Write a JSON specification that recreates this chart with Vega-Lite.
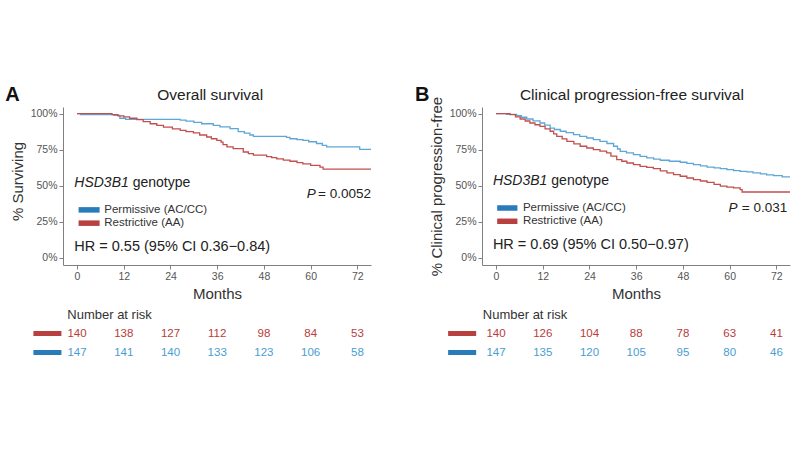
{
  "$schema": "https://vega.github.io/schema/vega-lite/v6.json",
  "padding": {"left": 5, "top": 85, "right": 5, "bottom": 5},
  "background": "white",
  "config": {
    "view": {"stroke": null},
    "font": "Liberation Sans",
    "axis": {
      "grid": false,
      "domainColor": "#808080",
      "tickColor": "#808080",
      "tickSize": 4,
      "labelColor": "#555555",
      "labelFontSize": 10.5,
      "labelPadding": 2,
      "labelOverlap": false,
      "titleColor": "#333333",
      "titleFontSize": 15,
      "titleFontWeight": "normal",
      "titlePadding": 5
    }
  },
  "datasets": {
    "km": [
      {"p":"OS","g":"Permissive (AC/CC)","m":0,"s":100},
      {"p":"OS","g":"Permissive (AC/CC)","m":0.9,"s":99.3},
      {"p":"OS","g":"Permissive (AC/CC)","m":9.5,"s":98.8},
      {"p":"OS","g":"Permissive (AC/CC)","m":11,"s":96.8},
      {"p":"OS","g":"Permissive (AC/CC)","m":12.5,"s":96},
      {"p":"OS","g":"Permissive (AC/CC)","m":26.5,"s":95.5},
      {"p":"OS","g":"Permissive (AC/CC)","m":28,"s":94.8},
      {"p":"OS","g":"Permissive (AC/CC)","m":30,"s":94},
      {"p":"OS","g":"Permissive (AC/CC)","m":32,"s":93},
      {"p":"OS","g":"Permissive (AC/CC)","m":35,"s":91.8},
      {"p":"OS","g":"Permissive (AC/CC)","m":36.7,"s":90.8},
      {"p":"OS","g":"Permissive (AC/CC)","m":39.3,"s":89.6},
      {"p":"OS","g":"Permissive (AC/CC)","m":41.4,"s":87.6},
      {"p":"OS","g":"Permissive (AC/CC)","m":43,"s":86.5},
      {"p":"OS","g":"Permissive (AC/CC)","m":44.4,"s":85.2},
      {"p":"OS","g":"Permissive (AC/CC)","m":45.3,"s":84.3},
      {"p":"OS","g":"Permissive (AC/CC)","m":53.8,"s":83.5},
      {"p":"OS","g":"Permissive (AC/CC)","m":54.7,"s":82.6},
      {"p":"OS","g":"Permissive (AC/CC)","m":56.5,"s":82},
      {"p":"OS","g":"Permissive (AC/CC)","m":58,"s":81.5},
      {"p":"OS","g":"Permissive (AC/CC)","m":59.5,"s":80.5},
      {"p":"OS","g":"Permissive (AC/CC)","m":61.5,"s":79.3},
      {"p":"OS","g":"Permissive (AC/CC)","m":63,"s":78},
      {"p":"OS","g":"Permissive (AC/CC)","m":64.1,"s":76.9},
      {"p":"OS","g":"Permissive (AC/CC)","m":72.6,"s":75.3},
      {"p":"OS","g":"Permissive (AC/CC)","m":75.5,"s":75.3},
      {"p":"OS","g":"Restrictive (AA)","m":0,"s":100},
      {"p":"OS","g":"Restrictive (AA)","m":9,"s":99.3},
      {"p":"OS","g":"Restrictive (AA)","m":10.5,"s":98.5},
      {"p":"OS","g":"Restrictive (AA)","m":12,"s":97.7},
      {"p":"OS","g":"Restrictive (AA)","m":13.5,"s":96.8},
      {"p":"OS","g":"Restrictive (AA)","m":15.4,"s":95.8},
      {"p":"OS","g":"Restrictive (AA)","m":17,"s":94.5},
      {"p":"OS","g":"Restrictive (AA)","m":18.8,"s":93},
      {"p":"OS","g":"Restrictive (AA)","m":20.5,"s":91.8},
      {"p":"OS","g":"Restrictive (AA)","m":22.2,"s":90.7},
      {"p":"OS","g":"Restrictive (AA)","m":24.5,"s":89.5},
      {"p":"OS","g":"Restrictive (AA)","m":26.5,"s":88.4},
      {"p":"OS","g":"Restrictive (AA)","m":28,"s":87.5},
      {"p":"OS","g":"Restrictive (AA)","m":29.9,"s":86.6},
      {"p":"OS","g":"Restrictive (AA)","m":31.5,"s":85.2},
      {"p":"OS","g":"Restrictive (AA)","m":33.3,"s":83.8},
      {"p":"OS","g":"Restrictive (AA)","m":34.5,"s":82.6},
      {"p":"OS","g":"Restrictive (AA)","m":35.9,"s":81.5},
      {"p":"OS","g":"Restrictive (AA)","m":37,"s":80.3},
      {"p":"OS","g":"Restrictive (AA)","m":37.5,"s":78.5},
      {"p":"OS","g":"Restrictive (AA)","m":38.5,"s":77},
      {"p":"OS","g":"Restrictive (AA)","m":40.1,"s":75.7},
      {"p":"OS","g":"Restrictive (AA)","m":42.7,"s":73.4},
      {"p":"OS","g":"Restrictive (AA)","m":44,"s":72.3},
      {"p":"OS","g":"Restrictive (AA)","m":45.3,"s":71.2},
      {"p":"OS","g":"Restrictive (AA)","m":48.7,"s":70.2},
      {"p":"OS","g":"Restrictive (AA)","m":50,"s":69.5},
      {"p":"OS","g":"Restrictive (AA)","m":51.3,"s":68.6},
      {"p":"OS","g":"Restrictive (AA)","m":53,"s":67.8},
      {"p":"OS","g":"Restrictive (AA)","m":54.7,"s":67},
      {"p":"OS","g":"Restrictive (AA)","m":56.5,"s":66},
      {"p":"OS","g":"Restrictive (AA)","m":58,"s":65.2},
      {"p":"OS","g":"Restrictive (AA)","m":60,"s":64.2},
      {"p":"OS","g":"Restrictive (AA)","m":62.4,"s":63},
      {"p":"OS","g":"Restrictive (AA)","m":63.2,"s":61.6},
      {"p":"OS","g":"Restrictive (AA)","m":75.5,"s":61.6},
      {"p":"PFS","g":"Permissive (AC/CC)","m":0,"s":100},
      {"p":"PFS","g":"Permissive (AC/CC)","m":2.7,"s":99.5},
      {"p":"PFS","g":"Permissive (AC/CC)","m":5.3,"s":98.6},
      {"p":"PFS","g":"Permissive (AC/CC)","m":6.5,"s":97.5},
      {"p":"PFS","g":"Permissive (AC/CC)","m":7.9,"s":96.3},
      {"p":"PFS","g":"Permissive (AC/CC)","m":9.5,"s":95},
      {"p":"PFS","g":"Permissive (AC/CC)","m":11.3,"s":93.5},
      {"p":"PFS","g":"Permissive (AC/CC)","m":12.5,"s":92},
      {"p":"PFS","g":"Permissive (AC/CC)","m":13.9,"s":90},
      {"p":"PFS","g":"Permissive (AC/CC)","m":15,"s":89},
      {"p":"PFS","g":"Permissive (AC/CC)","m":16.5,"s":87.8},
      {"p":"PFS","g":"Permissive (AC/CC)","m":18,"s":86.8},
      {"p":"PFS","g":"Permissive (AC/CC)","m":19.9,"s":85.5},
      {"p":"PFS","g":"Permissive (AC/CC)","m":21.5,"s":84.3},
      {"p":"PFS","g":"Permissive (AC/CC)","m":23.3,"s":83.1},
      {"p":"PFS","g":"Permissive (AC/CC)","m":25,"s":82},
      {"p":"PFS","g":"Permissive (AC/CC)","m":26.7,"s":80.8},
      {"p":"PFS","g":"Permissive (AC/CC)","m":28.5,"s":79.3},
      {"p":"PFS","g":"Permissive (AC/CC)","m":30.2,"s":77.4},
      {"p":"PFS","g":"Permissive (AC/CC)","m":31.2,"s":75.5},
      {"p":"PFS","g":"Permissive (AC/CC)","m":31.9,"s":73.9},
      {"p":"PFS","g":"Permissive (AC/CC)","m":33.5,"s":72.8},
      {"p":"PFS","g":"Permissive (AC/CC)","m":35.3,"s":71.6},
      {"p":"PFS","g":"Permissive (AC/CC)","m":37,"s":70.4},
      {"p":"PFS","g":"Permissive (AC/CC)","m":38.7,"s":69.3},
      {"p":"PFS","g":"Permissive (AC/CC)","m":40.5,"s":68.5},
      {"p":"PFS","g":"Permissive (AC/CC)","m":42.2,"s":67.7},
      {"p":"PFS","g":"Permissive (AC/CC)","m":44.5,"s":67},
      {"p":"PFS","g":"Permissive (AC/CC)","m":47.3,"s":66.3},
      {"p":"PFS","g":"Permissive (AC/CC)","m":49,"s":65.5},
      {"p":"PFS","g":"Permissive (AC/CC)","m":50.7,"s":64.7},
      {"p":"PFS","g":"Permissive (AC/CC)","m":52.5,"s":63.8},
      {"p":"PFS","g":"Permissive (AC/CC)","m":54.2,"s":63},
      {"p":"PFS","g":"Permissive (AC/CC)","m":56,"s":62.4},
      {"p":"PFS","g":"Permissive (AC/CC)","m":57.6,"s":61.9},
      {"p":"PFS","g":"Permissive (AC/CC)","m":59.3,"s":61.2},
      {"p":"PFS","g":"Permissive (AC/CC)","m":61,"s":60.5},
      {"p":"PFS","g":"Permissive (AC/CC)","m":62.7,"s":60},
      {"p":"PFS","g":"Permissive (AC/CC)","m":64.4,"s":59.6},
      {"p":"PFS","g":"Permissive (AC/CC)","m":66,"s":58.9},
      {"p":"PFS","g":"Permissive (AC/CC)","m":67.9,"s":58.2},
      {"p":"PFS","g":"Permissive (AC/CC)","m":69.5,"s":57.6},
      {"p":"PFS","g":"Permissive (AC/CC)","m":71.3,"s":57},
      {"p":"PFS","g":"Permissive (AC/CC)","m":73.5,"s":56.2},
      {"p":"PFS","g":"Permissive (AC/CC)","m":75.5,"s":56.2},
      {"p":"PFS","g":"Restrictive (AA)","m":0,"s":100},
      {"p":"PFS","g":"Restrictive (AA)","m":3.6,"s":99.3},
      {"p":"PFS","g":"Restrictive (AA)","m":5,"s":97.8},
      {"p":"PFS","g":"Restrictive (AA)","m":6.2,"s":96.3},
      {"p":"PFS","g":"Restrictive (AA)","m":7.5,"s":94.9},
      {"p":"PFS","g":"Restrictive (AA)","m":8.7,"s":93.5},
      {"p":"PFS","g":"Restrictive (AA)","m":10,"s":92.3},
      {"p":"PFS","g":"Restrictive (AA)","m":11.3,"s":91.2},
      {"p":"PFS","g":"Restrictive (AA)","m":12.6,"s":89.5},
      {"p":"PFS","g":"Restrictive (AA)","m":13.9,"s":87.8},
      {"p":"PFS","g":"Restrictive (AA)","m":14.8,"s":86},
      {"p":"PFS","g":"Restrictive (AA)","m":15.6,"s":84.3},
      {"p":"PFS","g":"Restrictive (AA)","m":17,"s":82.5},
      {"p":"PFS","g":"Restrictive (AA)","m":18.2,"s":80.8},
      {"p":"PFS","g":"Restrictive (AA)","m":20,"s":79},
      {"p":"PFS","g":"Restrictive (AA)","m":21.6,"s":77.4},
      {"p":"PFS","g":"Restrictive (AA)","m":23.3,"s":76.2},
      {"p":"PFS","g":"Restrictive (AA)","m":25,"s":75.1},
      {"p":"PFS","g":"Restrictive (AA)","m":26.7,"s":74},
      {"p":"PFS","g":"Restrictive (AA)","m":28.4,"s":72.8},
      {"p":"PFS","g":"Restrictive (AA)","m":29.5,"s":70.5},
      {"p":"PFS","g":"Restrictive (AA)","m":31,"s":68.1},
      {"p":"PFS","g":"Restrictive (AA)","m":32.3,"s":67},
      {"p":"PFS","g":"Restrictive (AA)","m":33.6,"s":65.8},
      {"p":"PFS","g":"Restrictive (AA)","m":35.3,"s":64.6},
      {"p":"PFS","g":"Restrictive (AA)","m":37,"s":63.5},
      {"p":"PFS","g":"Restrictive (AA)","m":38.7,"s":62.7},
      {"p":"PFS","g":"Restrictive (AA)","m":40.4,"s":61.9},
      {"p":"PFS","g":"Restrictive (AA)","m":42.2,"s":60.4},
      {"p":"PFS","g":"Restrictive (AA)","m":43.9,"s":58.9},
      {"p":"PFS","g":"Restrictive (AA)","m":45.6,"s":57.7},
      {"p":"PFS","g":"Restrictive (AA)","m":47.3,"s":56.6},
      {"p":"PFS","g":"Restrictive (AA)","m":49,"s":55.4},
      {"p":"PFS","g":"Restrictive (AA)","m":50.7,"s":54.3},
      {"p":"PFS","g":"Restrictive (AA)","m":52.5,"s":53.3},
      {"p":"PFS","g":"Restrictive (AA)","m":54.2,"s":52.4},
      {"p":"PFS","g":"Restrictive (AA)","m":56,"s":51},
      {"p":"PFS","g":"Restrictive (AA)","m":57.6,"s":49.7},
      {"p":"PFS","g":"Restrictive (AA)","m":59.3,"s":49.1},
      {"p":"PFS","g":"Restrictive (AA)","m":61,"s":48.5},
      {"p":"PFS","g":"Restrictive (AA)","m":62.7,"s":47.3},
      {"p":"PFS","g":"Restrictive (AA)","m":63.2,"s":45.7},
      {"p":"PFS","g":"Restrictive (AA)","m":75.5,"s":45.7}
    ],
    "risk": [
      {"p":"OS","g":"Restrictive (AA)","m":0,"n":140},
      {"p":"OS","g":"Restrictive (AA)","m":12,"n":138},
      {"p":"OS","g":"Restrictive (AA)","m":24,"n":127},
      {"p":"OS","g":"Restrictive (AA)","m":36,"n":112},
      {"p":"OS","g":"Restrictive (AA)","m":48,"n":98},
      {"p":"OS","g":"Restrictive (AA)","m":60,"n":84},
      {"p":"OS","g":"Restrictive (AA)","m":72,"n":53},
      {"p":"OS","g":"Permissive (AC/CC)","m":0,"n":147},
      {"p":"OS","g":"Permissive (AC/CC)","m":12,"n":141},
      {"p":"OS","g":"Permissive (AC/CC)","m":24,"n":140},
      {"p":"OS","g":"Permissive (AC/CC)","m":36,"n":133},
      {"p":"OS","g":"Permissive (AC/CC)","m":48,"n":123},
      {"p":"OS","g":"Permissive (AC/CC)","m":60,"n":106},
      {"p":"OS","g":"Permissive (AC/CC)","m":72,"n":58},
      {"p":"PFS","g":"Restrictive (AA)","m":0,"n":140},
      {"p":"PFS","g":"Restrictive (AA)","m":12,"n":126},
      {"p":"PFS","g":"Restrictive (AA)","m":24,"n":104},
      {"p":"PFS","g":"Restrictive (AA)","m":36,"n":88},
      {"p":"PFS","g":"Restrictive (AA)","m":48,"n":78},
      {"p":"PFS","g":"Restrictive (AA)","m":60,"n":63},
      {"p":"PFS","g":"Restrictive (AA)","m":72,"n":41},
      {"p":"PFS","g":"Permissive (AC/CC)","m":0,"n":147},
      {"p":"PFS","g":"Permissive (AC/CC)","m":12,"n":135},
      {"p":"PFS","g":"Permissive (AC/CC)","m":24,"n":120},
      {"p":"PFS","g":"Permissive (AC/CC)","m":36,"n":105},
      {"p":"PFS","g":"Permissive (AC/CC)","m":48,"n":95},
      {"p":"PFS","g":"Permissive (AC/CC)","m":60,"n":80},
      {"p":"PFS","g":"Permissive (AC/CC)","m":72,"n":46}
    ]
  },
  "bounds": "flush",
  "columns": 2,
  "spacing": {"row": 40, "column": 111},
  "resolve": {"scale": {"x": "independent", "y": "independent", "color": "independent"}},
  "concat": [
    {
      "width": 308,
      "height": 158,
      "layer": [
        {
          "data": {"name": "km"},
          "transform": [{"filter": "datum.p == 'OS'"}],
          "mark": {"type": "line", "interpolate": "step-after", "strokeWidth": 1.3},
          "encoding": {
            "x": {"field": "m", "type": "quantitative",
                  "scale": {"domain": [-3.6, 75.5], "nice": false, "zero": false},
                  "axis": {"values": [0, 12, 24, 36, 48, 60, 72], "tickCount": 20, "title": "Months", "labelOverlap": false}},
            "y": {"field": "s", "type": "quantitative",
                  "scale": {"domain": [-4.9, 104.6], "nice": false, "zero": false},
                  "axis": {"values": [0, 25, 50, 75, 100], "tickCount": 20, "labelExpr": "datum.value + '%'", "title": "% Surviving", "labelOverlap": false, "labelFlush": false, "titleY": 74}},
            "color": {"field": "g", "type": "nominal",
                      "scale": {"domain": ["Permissive (AC/CC)", "Restrictive (AA)"], "range": ["#5ea6d6", "#c24f4f"]},
                      "legend": null}
          }
        },
        {"data": {"values": [{}]}, "mark": {"type": "text", "text": "A", "align": "left", "baseline": "middle", "fontSize": 20, "fontWeight": "bold", "color": "#111111"},
         "encoding": {"x": {"datum": -18.4}, "y": {"datum": 112.9}}},
        {"data": {"values": [{}]}, "mark": {"type": "text", "text": "Overall survival", "align": "center", "baseline": "middle", "fontSize": 15.5, "color": "#222222"},
         "encoding": {"x": {"datum": 34.2}, "y": {"datum": 112.9}}},
        {"data": {"values": [{}]}, "mark": {"type": "text", "text": "HSD3B1", "align": "left", "baseline": "middle", "fontSize": 14, "fontStyle": "italic", "color": "#222222"},
         "encoding": {"x": {"datum": -0.7}, "y": {"datum": 51.9}}},
        {"data": {"values": [{}]}, "mark": {"type": "text", "text": "genotype", "align": "left", "baseline": "middle", "fontSize": 14, "color": "#222222"},
         "encoding": {"x": {"datum": 14.3}, "y": {"datum": 51.9}}},
        {"data": {"values": [{}]}, "mark": {"type": "rule", "strokeWidth": 5.5, "strokeCap": "butt", "color": "#2a7bb9"},
         "encoding": {"x": {"datum": 0.4}, "x2": {"datum": 5.8}, "y": {"datum": 33.3}}},
        {"data": {"values": [{}]}, "mark": {"type": "rule", "strokeWidth": 5.5, "strokeCap": "butt", "color": "#b8403f"},
         "encoding": {"x": {"datum": 0.4}, "x2": {"datum": 5.8}, "y": {"datum": 24.1}}},
        {"data": {"values": [{}]}, "mark": {"type": "text", "text": "Permissive (AC/CC)", "align": "left", "baseline": "middle", "fontSize": 11.5, "color": "#333333"},
         "encoding": {"x": {"datum": 7}, "y": {"datum": 33.3}}},
        {"data": {"values": [{}]}, "mark": {"type": "text", "text": "Restrictive (AA)", "align": "left", "baseline": "middle", "fontSize": 11.5, "color": "#333333"},
         "encoding": {"x": {"datum": 7}, "y": {"datum": 24.1}}},
        {"data": {"values": [{}]}, "mark": {"type": "text", "text": "P", "align": "left", "baseline": "middle", "fontSize": 13.5, "fontStyle": "italic", "color": "#222222"},
         "encoding": {"x": {"datum": 59}, "y": {"datum": 44.4}}},
        {"data": {"values": [{}]}, "mark": {"type": "text", "text": "= 0.0052", "align": "right", "baseline": "middle", "fontSize": 13.5, "color": "#222222"},
         "encoding": {"x": {"datum": 75.5}, "y": {"datum": 44.4}}},
        {"data": {"values": [{}]}, "mark": {"type": "text", "text": "HR = 0.55 (95% CI 0.36\u22120.84)", "align": "left", "baseline": "middle", "fontSize": 14.5, "color": "#222222"},
         "encoding": {"x": {"datum": -0.7}, "y": {"datum": 7.4}}}
      ]
    },
    {
      "width": 308,
      "height": 158,
      "layer": [
        {
          "data": {"name": "km"},
          "transform": [{"filter": "datum.p == 'PFS'"}],
          "mark": {"type": "line", "interpolate": "step-after", "strokeWidth": 1.3},
          "encoding": {
            "x": {"field": "m", "type": "quantitative",
                  "scale": {"domain": [-3.6, 75.5], "nice": false, "zero": false},
                  "axis": {"values": [0, 12, 24, 36, 48, 60, 72], "tickCount": 20, "title": "Months", "labelOverlap": false}},
            "y": {"field": "s", "type": "quantitative",
                  "scale": {"domain": [-4.9, 104.6], "nice": false, "zero": false},
                  "axis": {"values": [0, 25, 50, 75, 100], "tickCount": 20, "labelExpr": "datum.value + '%'", "title": "% Clinical progression-free", "labelOverlap": false, "labelFlush": false}},
            "color": {"field": "g", "type": "nominal",
                      "scale": {"domain": ["Permissive (AC/CC)", "Restrictive (AA)"], "range": ["#5ea6d6", "#c24f4f"]},
                      "legend": null}
          }
        },
        {"data": {"values": [{}]}, "mark": {"type": "text", "text": "B", "align": "left", "baseline": "middle", "fontSize": 20, "fontWeight": "bold", "color": "#111111"},
         "encoding": {"x": {"datum": -20.8}, "y": {"datum": 112.9}}},
        {"data": {"values": [{}]}, "mark": {"type": "text", "text": "Clinical progression-free survival", "align": "center", "baseline": "middle", "fontSize": 15.5, "color": "#222222"},
         "encoding": {"x": {"datum": 34.9}, "y": {"datum": 112.9}}},
        {"data": {"values": [{}]}, "mark": {"type": "text", "text": "HSD3B1", "align": "left", "baseline": "middle", "fontSize": 14, "fontStyle": "italic", "color": "#222222"},
         "encoding": {"x": {"datum": -0.8}, "y": {"datum": 53.1}}},
        {"data": {"values": [{}]}, "mark": {"type": "text", "text": "genotype", "align": "left", "baseline": "middle", "fontSize": 14, "color": "#222222"},
         "encoding": {"x": {"datum": 14.2}, "y": {"datum": 53.1}}},
        {"data": {"values": [{}]}, "mark": {"type": "rule", "strokeWidth": 5.5, "strokeCap": "butt", "color": "#2a7bb9"},
         "encoding": {"x": {"datum": 0.3}, "x2": {"datum": 5.5}, "y": {"datum": 34.6}}},
        {"data": {"values": [{}]}, "mark": {"type": "rule", "strokeWidth": 5.5, "strokeCap": "butt", "color": "#b8403f"},
         "encoding": {"x": {"datum": 0.3}, "x2": {"datum": 5.5}, "y": {"datum": 25.4}}},
        {"data": {"values": [{}]}, "mark": {"type": "text", "text": "Permissive (AC/CC)", "align": "left", "baseline": "middle", "fontSize": 11.5, "color": "#333333"},
         "encoding": {"x": {"datum": 6.9}, "y": {"datum": 34.6}}},
        {"data": {"values": [{}]}, "mark": {"type": "text", "text": "Restrictive (AA)", "align": "left", "baseline": "middle", "fontSize": 11.5, "color": "#333333"},
         "encoding": {"x": {"datum": 6.9}, "y": {"datum": 25.4}}},
        {"data": {"values": [{}]}, "mark": {"type": "text", "text": "P", "align": "left", "baseline": "middle", "fontSize": 13.5, "fontStyle": "italic", "color": "#222222"},
         "encoding": {"x": {"datum": 59.7}, "y": {"datum": 34.6}}},
        {"data": {"values": [{}]}, "mark": {"type": "text", "text": "= 0.031", "align": "right", "baseline": "middle", "fontSize": 13.5, "color": "#222222"},
         "encoding": {"x": {"datum": 74.8}, "y": {"datum": 34.6}}},
        {"data": {"values": [{}]}, "mark": {"type": "text", "text": "HR = 0.69 (95% CI 0.50\u22120.97)", "align": "left", "baseline": "middle", "fontSize": 14.5, "color": "#222222"},
         "encoding": {"x": {"datum": -0.8}, "y": {"datum": 8.9}}}
      ]
    },
    {
      "width": 308,
      "height": 57,
      "layer": [
        {"data": {"values": [{}]}, "mark": {"type": "text", "text": "Number at risk", "align": "left", "baseline": "middle", "fontSize": 13, "color": "#333333"},
         "encoding": {"x": {"datum": -2.5, "type": "quantitative", "scale": {"domain": [-3.6, 75.5], "nice": false, "zero": false}, "axis": null},
                      "y": {"datum": "Number at risk", "type": "nominal", "scale": {"type": "point", "domain": ["Number at risk", "Restrictive (AA)", "Permissive (AC/CC)"], "padding": 0.5}, "axis": null}}},
        {"data": {"values": [{}]}, "mark": {"type": "rule", "strokeWidth": 5, "strokeCap": "butt", "color": "#b8403f"},
         "encoding": {"x": {"datum": -11.2}, "x2": {"datum": -4.0}, "y": {"datum": "Restrictive (AA)", "type": "nominal"}}},
        {"data": {"values": [{}]}, "mark": {"type": "rule", "strokeWidth": 5, "strokeCap": "butt", "color": "#2a7bb9"},
         "encoding": {"x": {"datum": -11.2}, "x2": {"datum": -4.0}, "y": {"datum": "Permissive (AC/CC)", "type": "nominal"}}},
        {"data": {"name": "risk"},
         "transform": [{"filter": "datum.p == 'OS'"}],
         "mark": {"type": "text", "align": "center", "baseline": "middle", "fontSize": 11.5},
         "encoding": {
           "x": {"field": "m", "type": "quantitative"},
           "y": {"field": "g", "type": "nominal"},
           "text": {"field": "n", "type": "quantitative"},
           "color": {"field": "g", "type": "nominal", "scale": {"domain": ["Permissive (AC/CC)", "Restrictive (AA)"], "range": ["#4a9dd2", "#b83c3c"]}, "legend": null}
         }}
      ]
    },
    {
      "width": 308,
      "height": 57,
      "layer": [
        {"data": {"values": [{}]}, "mark": {"type": "text", "text": "Number at risk", "align": "left", "baseline": "middle", "fontSize": 13, "color": "#333333"},
         "encoding": {"x": {"datum": -3.4, "type": "quantitative", "scale": {"domain": [-3.6, 75.5], "nice": false, "zero": false}, "axis": null},
                      "y": {"datum": "Number at risk", "type": "nominal", "scale": {"type": "point", "domain": ["Number at risk", "Restrictive (AA)", "Permissive (AC/CC)"], "padding": 0.5}, "axis": null}}},
        {"data": {"values": [{}]}, "mark": {"type": "rule", "strokeWidth": 5, "strokeCap": "butt", "color": "#b8403f"},
         "encoding": {"x": {"datum": -12.3}, "x2": {"datum": -5.1}, "y": {"datum": "Restrictive (AA)", "type": "nominal"}}},
        {"data": {"values": [{}]}, "mark": {"type": "rule", "strokeWidth": 5, "strokeCap": "butt", "color": "#2a7bb9"},
         "encoding": {"x": {"datum": -12.3}, "x2": {"datum": -5.1}, "y": {"datum": "Permissive (AC/CC)", "type": "nominal"}}},
        {"data": {"name": "risk"},
         "transform": [{"filter": "datum.p == 'PFS'"}],
         "mark": {"type": "text", "align": "center", "baseline": "middle", "fontSize": 11.5},
         "encoding": {
           "x": {"field": "m", "type": "quantitative"},
           "y": {"field": "g", "type": "nominal"},
           "text": {"field": "n", "type": "quantitative"},
           "color": {"field": "g", "type": "nominal", "scale": {"domain": ["Permissive (AC/CC)", "Restrictive (AA)"], "range": ["#4a9dd2", "#b83c3c"]}, "legend": null}
         }}
      ]
    }
  ]
}
